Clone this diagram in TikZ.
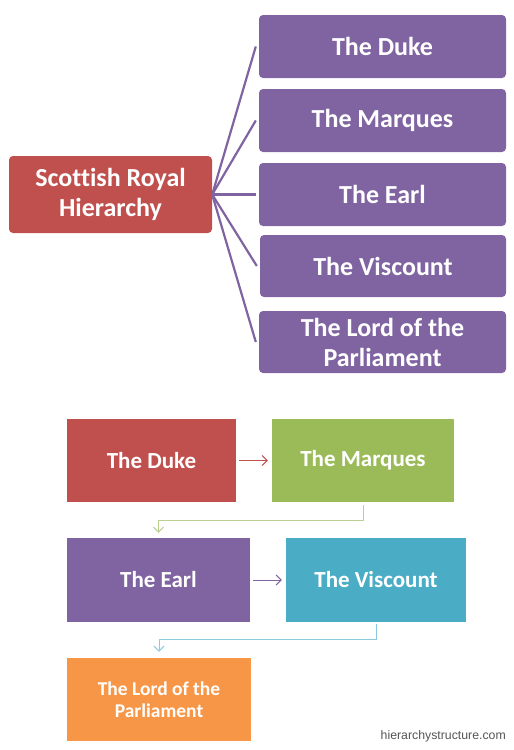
\documentclass[tikz,border=0pt]{standalone}
\usepackage{fontspec}
\setmainfont[Ligatures=NoCommon]{Carlito}
\newfontfamily\wmfont{Liberation Sans}
\usetikzlibrary{arrows.meta}
\definecolor{cred}{HTML}{C0504D}
\definecolor{cgreen}{HTML}{9BBB59}
\definecolor{cpurple}{HTML}{8064A2}
\definecolor{cblue}{HTML}{4BACC6}
\definecolor{corange}{HTML}{F79646}
\definecolor{lgreen}{HTML}{BCCF92}
\definecolor{lblue}{HTML}{8CCBDD}
\definecolor{wmgray}{HTML}{555555}
\tikzset{
  topbox/.style={rounded corners=4pt, inner sep=0pt, align=center, text=white,
    font=\fontsize{26}{30}\selectfont\bfseries},
  botbox/.style={inner sep=0pt, align=center, text=white,
    font=\fontsize{23}{27}\selectfont\bfseries},
  fanline/.style={draw=cpurple, line width=2.2pt},
  flowarrow/.style={line width=1pt, -{Straight Barb[length=5pt,width=10pt]}},
}
\begin{document}
\begin{tikzpicture}[x=1pt,y=-1pt]
\useasboundingbox (0,0) rectangle (514,750);
% top hierarchy
\node[topbox, fill=cred, minimum width=203pt, minimum height=77pt] (scot) at (110.5,194.5) {Scottish Royal\\Hierarchy};
\node[topbox, fill=cpurple, minimum width=247pt, minimum height=63pt] (tduke) at (382.5,46.5) {The Duke};
\node[topbox, fill=cpurple, minimum width=247pt, minimum height=63pt] (tmarq) at (382.5,120.5) {The Marques};
\node[topbox, fill=cpurple, minimum width=247pt, minimum height=63pt] (tearl) at (382.5,194.5) {The Earl};
\node[topbox, fill=cpurple, minimum width=246pt, minimum height=62pt] (tvisc) at (383,266) {The Viscount};
\node[topbox, fill=cpurple, minimum width=247pt, minimum height=62pt] (tlord) at (382.5,342) {The Lord of the\\Parliament};
\foreach \n in {tduke,tmarq,tearl,tvisc,tlord}
  \draw[fanline] (scot.east) -- ([xshift=-3pt]\n.west);
% bottom flow
\node[botbox, fill=cred, minimum width=169pt, minimum height=83pt] (bduke) at (151.5,460.5) {The Duke};
\node[botbox, fill=cgreen, minimum width=182pt, minimum height=83pt] (bmarq) at (363,460.5) {The Marques};
\node[botbox, fill=cpurple, minimum width=183pt, minimum height=84pt] (bearl) at (158.5,580) {The Earl};
\node[botbox, fill=cblue, minimum width=180pt, minimum height=84pt] (bvisc) at (376,580) {The Viscount};
\node[botbox, fill=corange, minimum width=184pt, minimum height=83pt,
  font=\fontsize{19.5}{22}\selectfont\bfseries] (blord) at (159,699.5) {The Lord of the\\Parliament};
\draw[flowarrow, draw=cred, shorten <=3pt, shorten >=4pt] (bduke.east) -- (bmarq.west);
\draw[flowarrow, draw=cpurple, shorten <=3pt, shorten >=4pt] (bearl.east) -- (bvisc.west);
\draw[flowarrow, draw=lgreen, shorten <=3pt, shorten >=5pt] (bmarq.south) -- ++(0,18) -| (bearl.north);
\draw[flowarrow, draw=lblue, shorten <=2pt, shorten >=6pt] (bvisc.south) -- ++(0,17) -| (blord.north);
% watermark
\node[anchor=base east, inner sep=0pt, text=wmgray, font=\wmfont\fontsize{12.3}{14}\selectfont] (wm) at (506,739) {hierarchystructure.com};
\end{tikzpicture}
\end{document}
